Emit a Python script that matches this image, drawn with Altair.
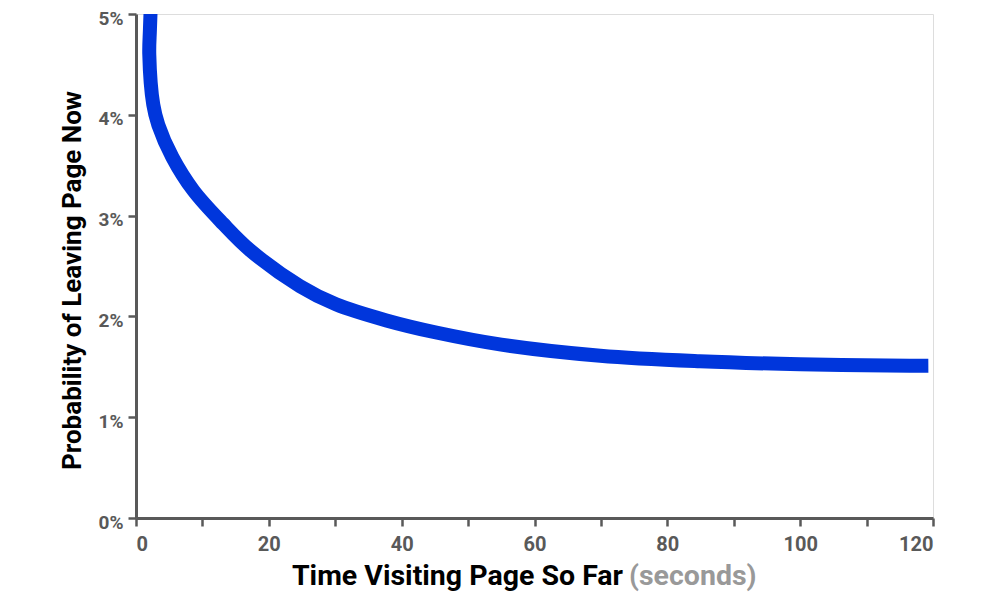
import altair as alt
import pandas as pd

# Curve (seconds, probability) in drawing order
seconds = [2.35, 2.1, 2.0, 2.6, 3.36, 5.47, 8.63, 13.1, 17.2, 24.7, 30.1, 37.7,
           45.2, 55.0, 69.9, 84.9, 100.0, 116.5, 119.3]
prob = [0.053, 0.0485, 0.046, 0.0410, 0.0390, 0.0358, 0.0325, 0.0292, 0.02655,
        0.0230, 0.0212, 0.0196, 0.0184, 0.0172, 0.0161, 0.01555, 0.01525,
        0.0151, 0.0151]

x_ticks = [0, 10, 20, 30, 40, 50, 60, 70, 80, 90, 100, 110, 120]
y_ticks = [0, 0.01, 0.02, 0.03, 0.04, 0.05]

title_main = "Time Visiting Page So Far"
title_unit = "(seconds)"
y_title = "Probability of Leaving Page Now"

df = pd.DataFrame({"t": seconds, "p": prob, "i": list(range(len(seconds)))})

AX = "#595959"
FONT = "Roboto"

line = alt.Chart(df).mark_line(
    color="#0036dc", strokeWidth=14, strokeCap="butt", clip=True,
    interpolate="catmull-rom"
).encode(
    x=alt.X("t:Q", scale=alt.Scale(domain=[0, 120], nice=False),
            axis=alt.Axis(values=x_ticks, title=None,
                          labelExpr="datum.value % 20 == 0 ? datum.label : ''",
                          grid=False, domainColor=AX, domainWidth=3,
                          tickColor=AX, tickWidth=2.5, tickSize=8,
                          labelColor=AX, labelFont=FONT, labelFontWeight="bold",
                          labelFontSize=20, labelPadding=8)),
    y=alt.Y("p:Q", scale=alt.Scale(domain=[0, 0.05], nice=False),
            axis=alt.Axis(values=y_ticks, format=".0%", title=y_title,
                          grid=False, domainColor=AX, domainWidth=3,
                          tickColor=AX, tickWidth=2.5, tickSize=8,
                          labelColor=AX, labelFont=FONT, labelFontWeight="bold",
                          labelFontSize=19, labelPadding=5, labelOffset=4,
                          titleFont=FONT, titleFontSize=26, titleFontWeight="bold",
                          titleColor="#000000", titleX=-56, titleY=266,
                          titleBaseline="alphabetic", titleAngle=270)),
    order=alt.Order("i:Q"),
)

t1 = alt.Chart(pd.DataFrame({"s": [title_main]})).mark_text(
    align="right", baseline="alphabetic", font=FONT, fontSize=28.5, fontWeight="bold",
    color="#000000"
).encode(text="s:N", x=alt.value(487), y=alt.value(571))

t2 = alt.Chart(pd.DataFrame({"s": [title_unit]})).mark_text(
    align="left", baseline="alphabetic", font=FONT, fontSize=28.5, fontWeight="bold",
    color="#999999"
).encode(text="s:N", x=alt.value(493), y=alt.value(571))

chart = alt.layer(line, t1, t2).properties(
    width=797, height=504,
    autosize=alt.AutoSizeParams(type="none"),
    padding={"left": 128, "top": 6, "right": 59, "bottom": 74},
).configure_view(stroke=None).configure(background="white")

chart.save("out.html", embed_options={"renderer": "svg", "actions": False})
